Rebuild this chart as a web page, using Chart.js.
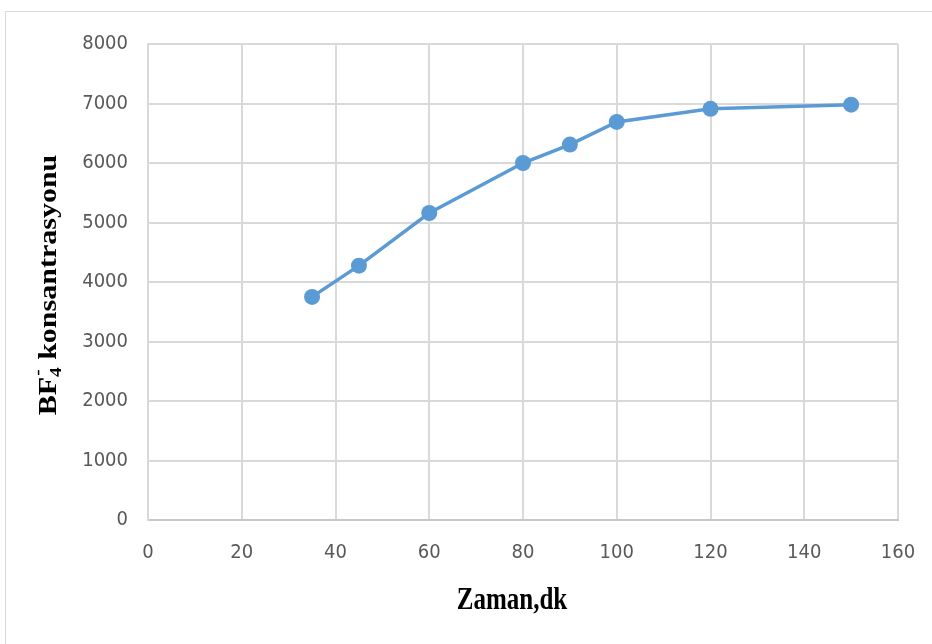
<!DOCTYPE html>
<html>
<head>
<meta charset="utf-8">
<script src="https://cdn.jsdelivr.net/npm/chart.js@4.4.1/dist/chart.umd.min.js"></script>
<style>
  html, body { margin: 0; padding: 0; background: #fff; overflow: hidden; }
  #frame { position: absolute; left: 5px; top: 11px; width: 1200px; height: 1000px; border: 1px solid #d9d9d9; }
  #wrap { position: absolute; left: 0; top: 0; width: 932px; height: 644px; }
</style>
</head>
<body>
<div id="frame"></div>
<div id="wrap"><canvas id="chart" width="932" height="644"></canvas></div>
<script>
// time (dk) and BF4- concentration
const times = [35, 45, 60, 80, 90, 100, 120, 150];
const concentrations = [3750, 4275, 5160, 6000, 6310, 6690, 6910, 6980];
const xTitle = 'Zaman,dk';
const yTitleParts = ['BF', '4', '-', ' konsantrasyonu'];

const tickFont = { family: '"Liberation Sans Narrow", "DejaVu Sans Condensed", sans-serif', size: 20 };
const titleFamily = '"Liberation Serif", "Times New Roman", serif';

// draws axis titles (needs sub/superscript and the stretched look)
const axisTitles = {
    id: 'axisTitles',
    afterDraw(chart) {
        const ctx = chart.ctx;
        ctx.save();
        ctx.fillStyle = '#000';

        // x title
        ctx.save();
        ctx.font = 'bold 25px ' + titleFamily;
        ctx.textAlign = 'center';
        ctx.textBaseline = 'middle';
        ctx.translate(512, 601);
        ctx.scale(1, 1.25);
        ctx.fillText(xTitle, 0, 0);
        ctx.restore();

        // y title, rotated
        ctx.save();
        ctx.translate(56, 285);
        ctx.rotate(-Math.PI / 2);
        ctx.scale(1.2, 1);
        ctx.textAlign = 'left';
        ctx.textBaseline = 'alphabetic';
        const big = 'bold 25px ' + titleFamily;
        const small = 'bold 16px ' + titleFamily;
        ctx.font = big;
        const w0 = ctx.measureText(yTitleParts[0]).width;
        const w3 = ctx.measureText(yTitleParts[3]).width;
        ctx.font = small;
        const w1 = ctx.measureText(yTitleParts[1]).width;
        const w2 = ctx.measureText(yTitleParts[2]).width;
        let x = -(w0 + Math.max(w1, w2) + w3) / 2;
        ctx.font = big;
        ctx.fillText(yTitleParts[0], x, 0);
        x += w0;
        ctx.font = small;
        ctx.fillText(yTitleParts[1], x, 5);
        ctx.fillText(yTitleParts[2], x + 1, -13);
        x += Math.max(w1, w2);
        ctx.font = big;
        ctx.fillText(yTitleParts[3], x, 0);
        ctx.restore();

        ctx.restore();
    }
};

new Chart(document.getElementById('chart'), {
    type: 'line',
    data: {
        datasets: [{
            data: times.map((t, i) => ({ x: t, y: concentrations[i] })),
            borderColor: '#5b9bd5',
            backgroundColor: '#5b9bd5',
            borderWidth: 3.5,
            pointRadius: 8,
            pointHoverRadius: 8,
            pointBorderWidth: 0,
            tension: 0,
            fill: false
        }]
    },
    options: {
        responsive: false,
        animation: false,
        layout: { padding: { left: 0, top: 44, right: 34, bottom: 0 } },
        plugins: {
            legend: { display: false },
            tooltip: { enabled: false }
        },
        scales: {
            x: {
                type: 'linear',
                min: 0,
                max: 160,
                ticks: { stepSize: 20, color: '#595959', font: tickFont, padding: 3, callback: v => String(v) },
                grid: { color: '#d9d9d9', lineWidth: 2, drawTicks: true, tickLength: 18, tickColor: 'rgba(0,0,0,0)' },
                border: { color: '#c8c8c8', width: 2 },
                afterFit(scale) { scale.height = 124; }
            },
            y: {
                min: 0,
                max: 8000,
                ticks: { stepSize: 1000, color: '#595959', font: tickFont, padding: 20, callback: v => String(v) },
                grid: { color: '#d9d9d9', lineWidth: 2, drawTicks: false },
                border: { color: '#d9d9d9', width: 2 },
                afterFit(scale) { scale.width = 148; }
            }
        }
    },
    plugins: [axisTitles]
});
</script>
</body>
</html>
